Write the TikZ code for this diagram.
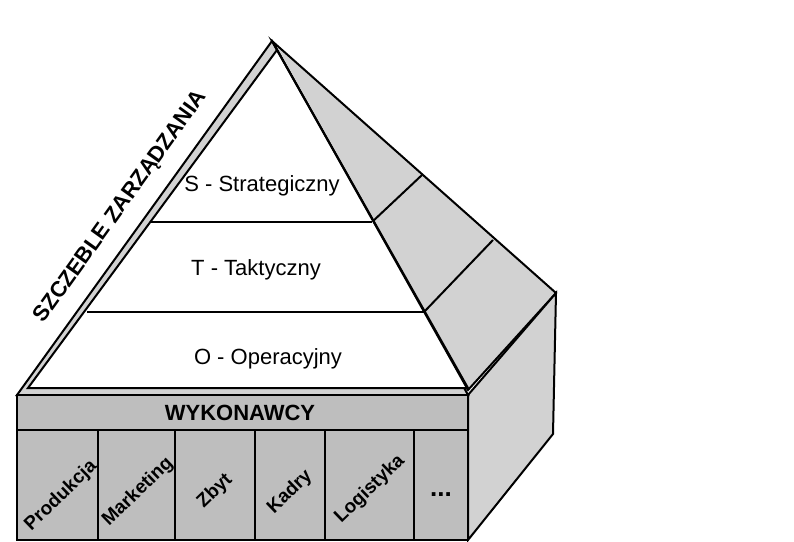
\documentclass[tikz,border=0pt]{standalone}
\usepackage{fontspec}
\setmainfont{Liberation Sans}
\definecolor{sideg}{HTML}{D2D2D2}
\definecolor{boxg}{HTML}{BEBEBE}
\begin{document}
\begin{tikzpicture}[x=1pt,y=-1pt,line width=2pt,line join=miter,
  lvl/.style={font=\fontsize{22}{26}\selectfont},
  col/.style={font=\bfseries\fontsize{19}{22}\selectfont,rotate=44,inner sep=0pt},
  hdr/.style={font=\bfseries\fontsize{22}{26}\selectfont}]
\useasboundingbox (0,0) rectangle (794,541);
% side faces
\draw[fill=sideg] (272,41) -- (556,293) -- (468,390) -- cycle;
\draw (372,222) -- (422,175);
\draw (424,312) -- (493,240);
\draw[fill=sideg] (468,395) -- (556,293) -- (553,434) -- (468,540) -- cycle;
% front triangle
\draw[fill=sideg] (272,41) -- (17,395) -- (468,395) -- cycle;
\draw[fill=white] (277,50) -- (28,388) -- (468,388) -- cycle;
\draw (272,41) -- (468,390);
\draw (150,222) -- (372,222);
\draw (87,312) -- (424,312);
\node[lvl] (s) at (262,186) {S - Strategiczny};
\node[lvl] (t) at (256,270) {T - Taktyczny};
\node[lvl] (o) at (268,359) {O - Operacyjny};
\node[font=\bfseries\fontsize{22}{26}\selectfont,rotate=54.3] (sz) at (121,207) {SZCZEBLE ZARZĄDZANIA};
% box
\draw[fill=boxg] (17,395) rectangle (468,540);
\draw (17,430) -- (468,430);
\foreach \x in {98,175,255,325,414} \draw (\x,430) -- (\x,540);
\node[hdr] (w) at (240,413) {WYKONAWCY};
\node[col] (c1) at (61,496) {Produkcja};
\node[col] (c2) at (138,492) {Marketing};
\node[col] (c3) at (215,491) {Zbyt};
\node[col] (c4) at (290,492) {Kadry};
\node[col] (c5) at (370,489) {Logistyka};
\node[font=\bfseries\fontsize{26}{30}\selectfont] (c6) at (441,495) {...};
\end{tikzpicture}
\end{document}
